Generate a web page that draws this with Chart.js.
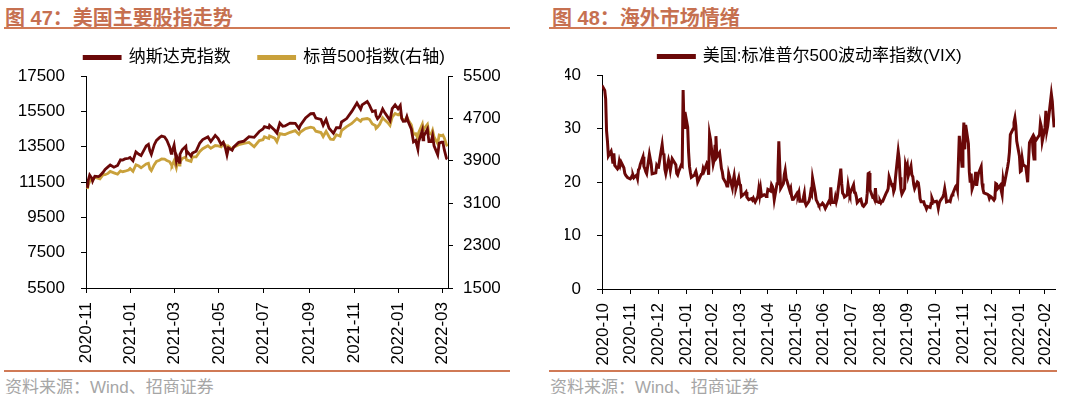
<!DOCTYPE html>
<html>
<head>
<meta charset="utf-8">
<script src="https://cdn.jsdelivr.net/npm/chart.js@4.4.0/dist/chart.umd.min.js"></script>
<style>
body{margin:0;width:1080px;height:394px;background:#fff;position:relative;overflow:hidden;font-family:"Liberation Sans","Noto Sans CJK SC",sans-serif}
.title{position:absolute;top:2px;font-size:20px;font-weight:bold;color:#C67050;white-space:nowrap}
.rule{position:absolute;height:2px;background:#D07A56}
.src{position:absolute;top:373px;font-size:17px;color:#A6A6A6;white-space:nowrap}
canvas{position:absolute;top:0}
</style>
</head>
<body>
<div class="title" style="left:5px">图 47：美国主要股指走势</div>
<div class="rule" style="left:4px;width:506px;top:27px"></div>
<div class="title" style="left:552px">图 48：海外市场情绪</div>
<div class="rule" style="left:549px;width:508px;top:27px"></div>

<canvas id="c1" width="540" height="370" style="left:0"></canvas>
<canvas id="c2" width="540" height="370" style="left:540px"></canvas>

<div class="rule" style="left:4px;width:506px;top:370px"></div>
<div class="rule" style="left:549px;width:508px;top:370px"></div>
<div class="src" style="left:5px">资料来源：Wind、招商证券</div>
<div class="src" style="left:550px">资料来源：Wind、招商证券</div>

<script>
// ---- 图47 数据 ----
var ndDates = [
  '2020-11-03','2020-11-04','2020-11-06','2020-11-09','2020-11-10','2020-11-13','2020-11-18','2020-11-20','2020-11-24','2020-11-27',
  '2020-12-01','2020-12-04','2020-12-09','2020-12-11','2020-12-14','2020-12-18','2020-12-21','2020-12-24','2020-12-29','2020-12-31',
  '2021-01-04','2021-01-08','2021-01-12','2021-01-15','2021-01-22','2021-01-25','2021-01-27','2021-01-29',
  '2021-02-02','2021-02-05','2021-02-09','2021-02-12','2021-02-16','2021-02-19','2021-02-23','2021-02-25','2021-02-26',
  '2021-03-01','2021-03-04','2021-03-05','2021-03-08','2021-03-09','2021-03-12','2021-03-17','2021-03-18','2021-03-19','2021-03-24','2021-03-26','2021-03-31',
  '2021-04-05','2021-04-09','2021-04-16','2021-04-20','2021-04-26','2021-04-30',
  '2021-05-04','2021-05-07','2021-05-10','2021-05-12','2021-05-14','2021-05-19','2021-05-21','2021-05-28',
  '2021-06-04','2021-06-11','2021-06-18','2021-06-25','2021-06-30',
  '2021-07-02','2021-07-08','2021-07-09','2021-07-16','2021-07-19','2021-07-23','2021-07-27','2021-07-30',
  '2021-08-06','2021-08-13','2021-08-18','2021-08-20','2021-08-27',
  '2021-09-03','2021-09-07','2021-09-10','2021-09-17','2021-09-20','2021-09-24','2021-09-28','2021-09-30',
  '2021-10-04','2021-10-08','2021-10-13','2021-10-15','2021-10-22','2021-10-29',
  '2021-11-05','2021-11-10','2021-11-12','2021-11-19','2021-11-22','2021-11-26','2021-11-30',
  '2021-12-01','2021-12-03','2021-12-06','2021-12-10','2021-12-13','2021-12-17','2021-12-20','2021-12-23','2021-12-27','2021-12-31',
  '2022-01-03','2022-01-05','2022-01-07','2022-01-10','2022-01-12','2022-01-14','2022-01-18','2022-01-21','2022-01-24','2022-01-27','2022-01-28',
  '2022-02-02','2022-02-03','2022-02-04','2022-02-09','2022-02-11','2022-02-14','2022-02-16','2022-02-18','2022-02-23','2022-02-25','2022-02-28',
  '2022-03-02','2022-03-04','2022-03-07','2022-03-08'
];
var nasdaq = [
  11161,11590,11895,11713,11554,11829,11802,11855,12037,12206,
  12355,12464,12339,12378,12440,12756,12742,12805,12843,12888,
  12698,13202,13072,12998,13543,13635,13271,13070,
  13612,13856,14007,14095,14047,13874,13465,13119,13192,
  13589,12723,12920,12609,13073,13320,13525,13116,13215,12961,13138,13247,
  13705,13900,14052,13787,14138,13962,
  13633,13752,13402,13031,13430,13299,13471,13749,
  13814,14069,14030,14360,14504,
  14639,14559,14701,14427,14275,14837,14660,14673,
  14835,14823,14526,14715,15130,
  15364,15374,15115,15044,14714,15048,14546,14448,
  14255,14580,14571,14897,15090,15498,
  15971,15622,15861,16057,15854,15491,15538,
  15254,15085,15225,15630,15413,15170,14980,15653,15871,15645,
  15832,15100,14936,14942,15188,14894,14506,13768,13855,13352,13771,
  14417,13879,14098,14490,13791,13790,14124,13548,13037,13694,13751,
  13752,13313,12831,12795
];
var sp500 = [
  3369,3443,3509,3550,3545,3585,3568,3558,3635,3638,
  3662,3699,3673,3663,3647,3709,3694,3703,3727,3756,
  3701,3825,3801,3768,3841,3855,3750,3714,
  3826,3887,3911,3934,3932,3907,3881,3829,3811,
  3901,3768,3842,3821,3875,3943,3974,3915,3913,3889,3975,3973,
  4077,4129,4185,4135,4188,4181,
  4165,4233,4189,4063,4174,4116,4156,4204,
  4230,4247,4166,4281,4298,
  4352,4321,4370,4327,4258,4412,4401,4395,
  4437,4468,4400,4442,4509,
  4535,4520,4459,4433,4358,4455,4353,4308,
  4300,4391,4364,4471,4545,4605,
  4698,4646,4683,4698,4682,4595,4567,
  4513,4538,4591,4712,4668,4620,4568,4726,4791,4766,
  4797,4701,4677,4670,4726,4663,4577,4398,4410,4327,4432,
  4590,4478,4500,4587,4419,4401,4475,4349,4225,4385,4374,
  4387,4329,4201,4171
];
var leftTickDates = ['2020-11-01','2021-01-01','2021-03-01','2021-05-01','2021-07-01','2021-09-01','2021-11-01','2022-01-01','2022-03-01'];
var leftTickLabels = ['2020-11','2021-01','2021-03','2021-05','2021-07','2021-09','2021-11','2022-01','2022-03'];

// ---- 图48 数据 ----
var vixDates = [
  '2020-10-30',
  '2020-11-02','2020-11-03','2020-11-04','2020-11-05','2020-11-06','2020-11-09','2020-11-10','2020-11-11','2020-11-12','2020-11-13','2020-11-16','2020-11-17','2020-11-18','2020-11-19','2020-11-20','2020-11-23','2020-11-24','2020-11-25','2020-11-27','2020-11-30',
  '2020-12-01','2020-12-02','2020-12-03','2020-12-04','2020-12-07','2020-12-08','2020-12-09','2020-12-10','2020-12-11','2020-12-14','2020-12-15','2020-12-16','2020-12-17','2020-12-18','2020-12-21','2020-12-22','2020-12-23','2020-12-24','2020-12-28','2020-12-29','2020-12-30','2020-12-31',
  '2021-01-04','2021-01-05','2021-01-06','2021-01-07','2021-01-08','2021-01-11','2021-01-12','2021-01-13','2021-01-14','2021-01-15','2021-01-19','2021-01-20','2021-01-21','2021-01-22','2021-01-25','2021-01-26','2021-01-27','2021-01-28','2021-01-29',
  '2021-02-01','2021-02-02','2021-02-03','2021-02-04','2021-02-05','2021-02-08','2021-02-09','2021-02-10','2021-02-11','2021-02-12','2021-02-16','2021-02-17','2021-02-18','2021-02-19','2021-02-22','2021-02-23','2021-02-24','2021-02-25','2021-02-26',
  '2021-03-01','2021-03-02','2021-03-03','2021-03-04','2021-03-05','2021-03-08','2021-03-09','2021-03-10','2021-03-11','2021-03-12','2021-03-15','2021-03-16','2021-03-17','2021-03-18','2021-03-19','2021-03-22','2021-03-23','2021-03-24','2021-03-25','2021-03-26','2021-03-29','2021-03-30','2021-03-31',
  '2021-04-01','2021-04-05','2021-04-06','2021-04-07','2021-04-08','2021-04-09','2021-04-12','2021-04-13','2021-04-14','2021-04-15','2021-04-16','2021-04-19','2021-04-20','2021-04-21','2021-04-22','2021-04-23','2021-04-26','2021-04-27','2021-04-28','2021-04-29','2021-04-30',
  '2021-05-03','2021-05-04','2021-05-05','2021-05-06','2021-05-07','2021-05-10','2021-05-11','2021-05-12','2021-05-13','2021-05-14','2021-05-17','2021-05-18','2021-05-19','2021-05-20','2021-05-21','2021-05-24','2021-05-25','2021-05-26','2021-05-27','2021-05-28',
  '2021-06-01','2021-06-02','2021-06-03','2021-06-04','2021-06-07','2021-06-08','2021-06-09','2021-06-10','2021-06-11','2021-06-14','2021-06-15','2021-06-16','2021-06-17','2021-06-18','2021-06-21','2021-06-22','2021-06-23','2021-06-24','2021-06-25','2021-06-28','2021-06-29','2021-06-30',
  '2021-07-01','2021-07-02','2021-07-06','2021-07-07','2021-07-08','2021-07-09','2021-07-12','2021-07-13','2021-07-14','2021-07-15','2021-07-16','2021-07-19','2021-07-20','2021-07-21','2021-07-22','2021-07-23','2021-07-26','2021-07-27','2021-07-28','2021-07-29','2021-07-30',
  '2021-08-02','2021-08-03','2021-08-04','2021-08-05','2021-08-06','2021-08-09','2021-08-10','2021-08-11','2021-08-12','2021-08-13','2021-08-16','2021-08-17','2021-08-18','2021-08-19','2021-08-20','2021-08-23','2021-08-24','2021-08-25','2021-08-26','2021-08-27','2021-08-30','2021-08-31',
  '2021-09-01','2021-09-02','2021-09-03','2021-09-07','2021-09-08','2021-09-09','2021-09-10','2021-09-13','2021-09-14','2021-09-15','2021-09-16','2021-09-17','2021-09-20','2021-09-21','2021-09-22','2021-09-23','2021-09-24','2021-09-27','2021-09-28','2021-09-29','2021-09-30',
  '2021-10-01','2021-10-04','2021-10-05','2021-10-06','2021-10-07','2021-10-08','2021-10-11','2021-10-12','2021-10-13','2021-10-14','2021-10-15','2021-10-18','2021-10-19','2021-10-20','2021-10-21','2021-10-22','2021-10-25','2021-10-26','2021-10-27','2021-10-28','2021-10-29',
  '2021-11-01','2021-11-02','2021-11-03','2021-11-04','2021-11-05','2021-11-08','2021-11-09','2021-11-10','2021-11-11','2021-11-12','2021-11-15','2021-11-16','2021-11-17','2021-11-18','2021-11-19','2021-11-22','2021-11-23','2021-11-24','2021-11-26','2021-11-29','2021-11-30',
  '2021-12-01','2021-12-02','2021-12-03','2021-12-06','2021-12-07','2021-12-08','2021-12-09','2021-12-10','2021-12-13','2021-12-14','2021-12-15','2021-12-16','2021-12-17','2021-12-20','2021-12-21','2021-12-22','2021-12-23','2021-12-27','2021-12-28','2021-12-29','2021-12-30','2021-12-31',
  '2022-01-03','2022-01-04','2022-01-05','2022-01-06','2022-01-07','2022-01-10','2022-01-11','2022-01-12','2022-01-13','2022-01-14','2022-01-18','2022-01-19','2022-01-20','2022-01-21','2022-01-24','2022-01-25','2022-01-26','2022-01-27','2022-01-28','2022-01-31',
  '2022-02-01','2022-02-02','2022-02-03','2022-02-04','2022-02-07','2022-02-08','2022-02-09','2022-02-10','2022-02-11','2022-02-14','2022-02-15','2022-02-16','2022-02-17','2022-02-18','2022-02-22','2022-02-23','2022-02-24','2022-02-25','2022-02-28',
  '2022-03-01','2022-03-02','2022-03-03','2022-03-04','2022-03-07','2022-03-08','2022-03-09','2022-03-10'
];
var vix = [
  38.02,
  37.13,35.55,29.57,27.58,24.86,25.75,24.80,23.45,25.35,23.10,22.45,22.71,23.84,23.11,23.70,22.66,21.64,21.25,20.84,20.57,
  20.77,21.17,21.28,20.79,21.30,20.68,22.27,22.52,23.31,24.72,22.89,22.50,21.93,21.57,25.16,24.23,23.31,21.53,21.70,23.08,22.77,22.75,
  26.97,25.34,25.07,22.37,21.56,24.08,23.33,22.21,23.25,24.34,23.24,21.58,21.32,21.91,23.19,23.02,37.21,30.21,33.09,
  30.24,25.56,22.91,21.77,20.87,21.24,21.63,21.99,21.25,19.97,21.46,21.50,22.49,22.05,23.45,23.11,21.34,28.89,27.95,
  23.35,24.10,26.67,28.57,24.66,25.47,24.03,22.56,21.91,20.69,19.79,19.23,19.23,21.58,20.95,18.88,20.30,21.20,19.81,18.86,20.74,19.61,19.40,
  17.33,17.91,18.12,17.16,16.95,16.69,16.91,16.65,16.99,16.57,16.25,17.29,18.68,17.50,18.71,17.33,17.64,17.56,17.28,17.61,18.61,
  18.31,19.48,19.15,18.39,16.69,19.66,21.84,27.59,23.13,18.81,19.72,21.34,22.18,20.67,20.15,18.40,18.84,17.36,16.74,16.76,
  17.90,17.48,18.04,16.42,16.42,17.07,17.89,16.10,15.65,16.39,17.02,18.15,17.75,20.70,17.89,16.66,16.32,15.97,15.62,15.76,16.02,15.83,
  15.48,15.07,16.44,16.20,19.00,16.18,16.17,17.12,16.33,17.01,18.45,22.50,19.73,17.91,17.69,17.20,17.58,19.36,18.31,17.70,18.24,
  19.46,18.04,17.97,17.28,16.15,16.72,16.79,16.06,15.59,15.45,16.12,17.91,21.57,21.67,18.56,17.15,17.22,16.79,18.84,16.39,16.15,16.48,
  16.11,16.41,16.41,18.00,18.31,18.80,20.95,19.37,19.46,18.18,18.69,20.81,25.71,24.36,20.87,18.63,17.75,18.76,23.25,22.56,23.14,
  21.15,22.96,21.30,21.00,19.54,18.77,20.00,19.85,18.64,16.86,16.30,16.30,15.70,15.49,15.01,15.43,15.24,15.98,16.98,16.53,16.26,
  16.41,16.03,15.10,16.03,16.48,17.22,17.78,18.73,17.66,16.29,16.49,16.37,17.11,17.59,17.91,19.17,19.38,18.58,28.62,22.96,27.19,
  31.12,26.09,30.67,27.18,21.89,19.90,21.58,18.69,20.31,21.89,19.29,20.57,21.57,22.87,19.70,18.63,17.96,17.68,17.54,16.95,17.33,17.22,
  16.60,16.91,19.73,19.61,18.76,19.40,18.41,17.62,20.31,19.19,22.79,23.85,25.59,28.85,29.90,31.16,31.96,30.49,27.66,24.83,
  21.96,22.09,24.35,23.22,22.86,21.44,19.96,23.91,27.36,28.33,25.70,24.29,28.11,27.75,28.81,31.02,30.32,27.59,30.15,
  33.32,29.57,30.48,31.98,36.45,35.13,32.45,30.23
];
var rightTickDates = ['2020-10-31','2020-11-30','2020-12-31','2021-01-31','2021-02-28','2021-03-31','2021-04-30','2021-05-31','2021-06-30','2021-07-31','2021-08-31','2021-09-30','2021-10-31','2021-11-30','2021-12-31','2022-01-31','2022-02-28'];
var rightTickLabels = ['2020-10','2020-11','2020-12','2021-01','2021-02','2021-03','2021-04','2021-05','2021-06','2021-07','2021-08','2021-09','2021-10','2021-11','2021-12','2022-01','2022-02'];

var RED = '#6A0808', GOLD = '#C9A13B';
var tickFont = {family: 'Liberation Sans', size: 17};
var legendFont = {family: "'Liberation Sans','Noto Sans CJK SC'", size: 17};

function day(s) {
  return Date.UTC(+s.slice(0, 4), +s.slice(5, 7) - 1, +s.slice(8, 10)) / 864e5;
}
function pts(dates, vals) {
  return dates.map(function (d, i) { return {x: day(d), y: vals[i]}; });
}

function xAxis(tickDates, labels, min, max, h) {
  return {
    type: 'linear', min: day(min), max: day(max),
    afterBuildTicks: function (s) { s.ticks = tickDates.map(function (d) { return {value: day(d)}; }); },
    afterFit: function (s) { s.height = h; },
    ticks: {autoSkip: false, minRotation: 90, maxRotation: 90, padding: 9, color: '#000', font: tickFont,
      callback: function (v, i) { return labels[i]; }},
    grid: {drawOnChartArea: false, tickLength: 5, color: '#000'},
    border: {color: '#000', width: 1}
  };
}
function yAxis(pos, min, max, step, w, pad) {
  return {
    position: pos, min: min, max: max,
    afterFit: function (s) { s.width = w; },
    ticks: {stepSize: step, padding: pad, color: '#000', font: tickFont,
      callback: function (v) { return String(v); }},
    grid: {drawOnChartArea: false, tickLength: 5, color: '#000'},
    border: {color: '#000', width: 1}
  };
}
var legendOpts = {position: 'top', labels: {boxWidth: 36, boxHeight: 2, padding: 28, color: '#000', font: legendFont}};

new Chart(document.getElementById('c1'), {
  type: 'line',
  data: {datasets: [
    {label: '纳斯达克指数', data: pts(ndDates, nasdaq), yAxisID: 'y', borderColor: RED, backgroundColor: RED, borderWidth: 2.8, pointRadius: 0, tension: 0},
    {label: '标普500指数(右轴)', data: pts(ndDates, sp500), yAxisID: 'y1', borderColor: GOLD, backgroundColor: GOLD, borderWidth: 2.8, pointRadius: 0, tension: 0}
  ]},
  options: {
    responsive: false, animation: false,
    layout: {padding: {top: 21, left: 0, right: 11, bottom: 0}},
    plugins: {legend: legendOpts, tooltip: {enabled: false}},
    scales: {
      x: xAxis(leftTickDates, leftTickLabels, '2020-11-01', '2022-03-09', 82),
      y: yAxis('left', 5500, 17500, 2000, 86, 16),
      y1: yAxis('right', 1500, 5500, 800, 81, 10)
    }
  }
});

new Chart(document.getElementById('c2'), {
  type: 'line',
  data: {datasets: [
    {label: '美国:标准普尔500波动率指数(VIX)', data: pts(vixDates, vix), borderColor: RED, backgroundColor: RED, borderWidth: 3, pointRadius: 0, tension: 0}
  ]},
  options: {
    responsive: false, animation: false,
    layout: {padding: {top: 20, left: 25, right: 25, bottom: 0}},
    plugins: {legend: legendOpts, tooltip: {enabled: false}},
    scales: {
      x: xAxis(rightTickDates, rightTickLabels, '2020-10-30', '2022-03-11', 81),
      y: yAxis('left', 0, 40, 10, 37, 16)
    }
  }
});
</script>
</body>
</html>
